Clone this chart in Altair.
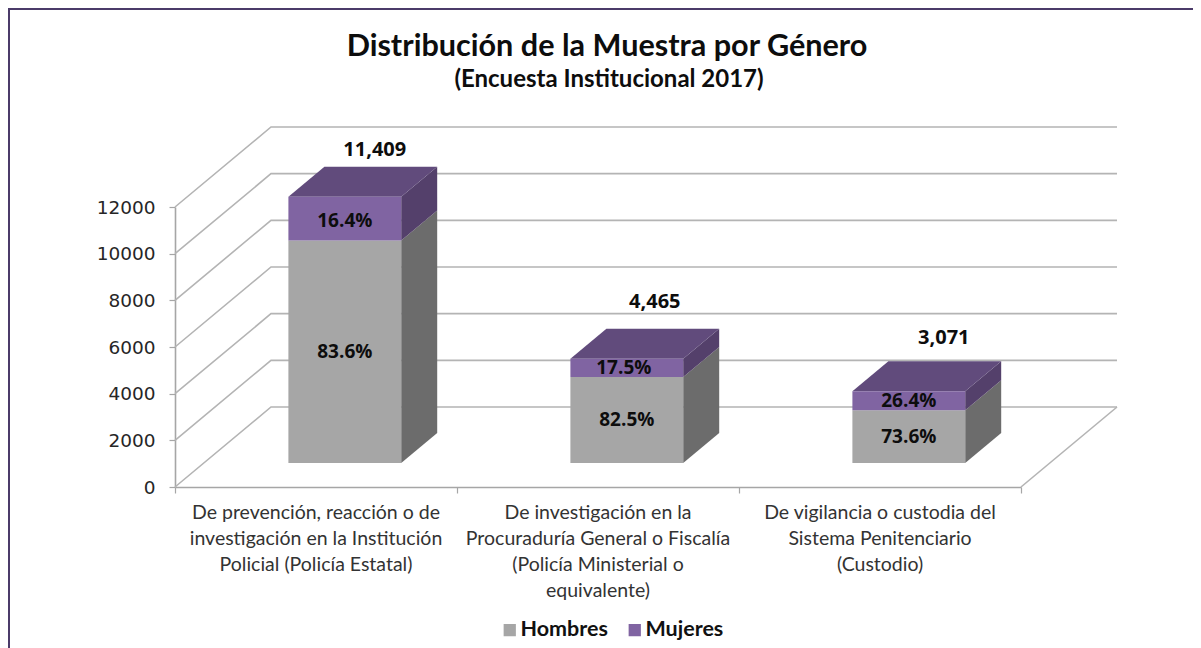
import altair as alt
import pandas as pd

# ---- values
categories = [
    "De prevención, reacción o de\ninvestigación en la Institución\nPolicial (Policía Estatal)",
    "De investigación en la\nProcuraduría General o Fiscalía\n(Policía Ministerial o\nequivalente)",
    "De vigilancia o custodia del\nSistema Penitenciario\n(Custodio)",
]
hombres = [9538, 3684, 2260]
mujeres = [1871, 781, 811]
totales = [11409, 4465, 3071]
pct_h = ["83.6%", "82.5%", "73.6%"]
pct_m = ["16.4%", "17.5%", "26.4%"]
total_labels = ["11,409", "4,465", "3,071"]
series = ["Hombres", "Mujeres"]
levels = [0, 2000, 4000, 6000, 8000, 10000, 12000]
title_text = "Distribución de la Muestra por Género"
subtitle_text = "(Encuesta Institucional 2017)"

# ---- oblique projection of the 3-D box
W, H = 846, 280
MAXV = 12000
DX = 96 / W * 3          # depth shift in category units
DV = 80 / H * MAXV       # depth shift in value units
FRONT, BACK = 0.30, 0.675
BARW = 0.40
PXV = MAXV / H
PXX = 3 / W
LIFT = [17, 27, 23]        # pixels between bar top and total label
TOT_SHIFT = [30, 28, 35]   # pixels right of the bar centre for the total label
PCT_M_SHIFT = [0, -3, 0]   # manual label shift of the Mujeres percentages
PCT_M_LIFT = [-2, 0, 0]

FS = "Open Sans"
LS = "Lato"
GRAY = "#a6a6a6"

x_s = alt.Scale(domain=[0, 3], nice=False, zero=False)
y_s = alt.Scale(domain=[0, MAXV], nice=False)
x_axis = alt.Axis(values=[0, 1, 2, 3], labels=False, title=None, grid=False,
                  domainColor=GRAY, domainWidth=1.6, tickColor=GRAY, tickSize=6, tickWidth=1.2)
y_axis = alt.Axis(values=levels, title=None, grid=False, format="d",
                  domainColor=GRAY, domainWidth=1.6, tickColor=GRAY, tickSize=6, tickWidth=1.2,
                  labelFont="DejaVu Sans", labelFontSize=18.5, labelColor="#262626", labelPadding=14)
X = lambda f, **k: alt.X(f, type="quantitative", scale=x_s, axis=x_axis, **k)
Y = lambda f, **k: alt.Y(f, type="quantitative", scale=y_s, axis=y_axis, **k)

# ---- wall and floor lines
wall = []
for v in levels:
    wall += [
        dict(id=v, o=0, x=0, v=v),
        dict(id=v, o=1, x=DX, v=v + DV),
        dict(id=v, o=2, x=3 + DX, v=v + DV),
    ]
wall += [dict(id=-1, o=0, x=3, v=0), dict(id=-1, o=1, x=3 + DX, v=DV)]
wall_layer = alt.Chart(pd.DataFrame(wall)).mark_line(color="#b4b4b4", strokeWidth=1.6).encode(
    x=X("x"), y=Y("v"), detail="id:N", order="o:Q"
)

# ---- bar faces
fronts, sides, tops, pcts, tot = [], [], [], [], []
for i in range(3):
    xl = i + 0.5 - BARW / 2 + FRONT * DX
    xr = xl + BARW
    lift = (BACK - FRONT)
    b0 = FRONT * DV
    h, m = hombres[i], mujeres[i]
    fronts += [
        dict(x=xl, x2=xr, v=b0, v2=b0 + h, s=series[0]),
        dict(x=xl, x2=xr, v=b0 + h, v2=b0 + h + m, s=series[1]),
    ]
    for name, lo, hi in [("h", b0, b0 + h), ("m", b0 + h, b0 + h + m)]:
        sides += [
            dict(id=f"{name}{i}", s=name, x=xr, v=lo, v2=hi),
            dict(id=f"{name}{i}", s=name, x=xr + lift * DX, v=lo + lift * DV, v2=hi + lift * DV),
        ]
    top = b0 + h + m
    tops += [
        dict(id=i, v=top, x=xl, x2=xr),
        dict(id=i, v=top + lift * DV, x=xl + lift * DX, x2=xr + lift * DX),
    ]
    xc = (xl + xr) / 2
    pcts += [dict(x=xc, v=b0 + h / 2, t=pct_h[i]),
             dict(x=xc + PCT_M_SHIFT[i] * PXX, v=b0 + h + m / 2 + PCT_M_LIFT[i] * PXV, t=pct_m[i])]
    tot.append(dict(x=xc + TOT_SHIFT[i] * PXX, v=top + lift * DV + LIFT[i] * PXV, t=total_labels[i]))

sides = pd.DataFrame(sides)
side_h = alt.Chart(sides[sides.s == "h"]).mark_area(color="#6c6c6c").encode(
    x=X("x"), y=Y("v"), y2="v2", detail="id:N")
side_m = alt.Chart(sides[sides.s == "m"]).mark_area(color="#54406b").encode(
    x=X("x"), y=Y("v"), y2="v2", detail="id:N")
top_layer = alt.Chart(pd.DataFrame(tops)).mark_area(color="#614b7c", orient="horizontal").encode(
    y=Y("v"), x=X("x"), x2="x2", detail="id:N")
front_layer = alt.Chart(pd.DataFrame(fronts)).mark_rect().encode(
    x=X("x"), x2="x2", y=Y("v"), y2="v2",
    color=alt.Color("s:N", sort=series,
                    scale=alt.Scale(domain=series, range=[GRAY, "#8064a2"]),
                    legend=alt.Legend(title=None, orient="none", direction="horizontal", columns=2,
                                      legendX=324, legendY=412, symbolType="square", symbolSize=150,
                                      symbolStrokeWidth=0, labelFont=LS, labelFontWeight="bold",
                                      labelFontSize=21.5, labelColor="#111111", columnPadding=16,
                                      labelOffset=0)),
)
pct_layer = alt.Chart(pd.DataFrame(pcts)).mark_text(font=FS, fontWeight="bold", fontSize=19, color="#0d0d0d").encode(
    x=X("x"), y=Y("v"), text="t:N")
tot_layer = alt.Chart(pd.DataFrame(tot)).mark_text(font=FS, fontWeight="bold", fontSize=20, color="#0d0d0d").encode(
    x=X("x"), y=Y("v"), text="t:N")

# ---- category labels
cat_df = pd.DataFrame({"x": [0.5, 1.5, 2.5], "t": categories})
cat_layer = alt.Chart(cat_df).mark_text(font=LS, fontSize=19.5, color="#333333", baseline="top",
                                        lineBreak="\n", lineHeight=26).encode(
    x=X("x"), y=alt.value(H + 17), text="t:N")

# ---- title block as text marks (the frame would otherwise push a chart title off the page)
title_layer = alt.Chart(pd.DataFrame({"t": [title_text]})).mark_text(
    font=LS, fontSize=30.6, fontWeight="bold", color="#0d0d0d").encode(
    x=alt.value(432), y=alt.value(-160), text="t:N")
sub_layer = alt.Chart(pd.DataFrame({"t": [subtitle_text]})).mark_text(
    font=LS, fontSize=24, fontWeight="bold", color="#0d0d0d").encode(
    x=alt.value(434), y=alt.value(-127), text="t:N")

# ---- outer frame
frame = alt.Chart(pd.DataFrame({"a": [0]})).mark_rect(filled=False, stroke="#4b3b69", strokeWidth=2).encode(
    x=alt.value(-166), x2=alt.value(1100), y=alt.value(-198), y2=alt.value(600))

chart = alt.layer(
    frame, wall_layer, side_h, side_m, top_layer, front_layer, pct_layer, tot_layer, cat_layer,
    title_layer, sub_layer
).properties(
    width=W, height=H,
    padding={"left": 167, "top": 199, "right": 172, "bottom": 161},
    autosize=alt.AutoSizeParams(type="none"),
    background="white",
).configure_view(stroke=None)

chart.save("out.html", embed_options={"renderer": "svg", "actions": False})
